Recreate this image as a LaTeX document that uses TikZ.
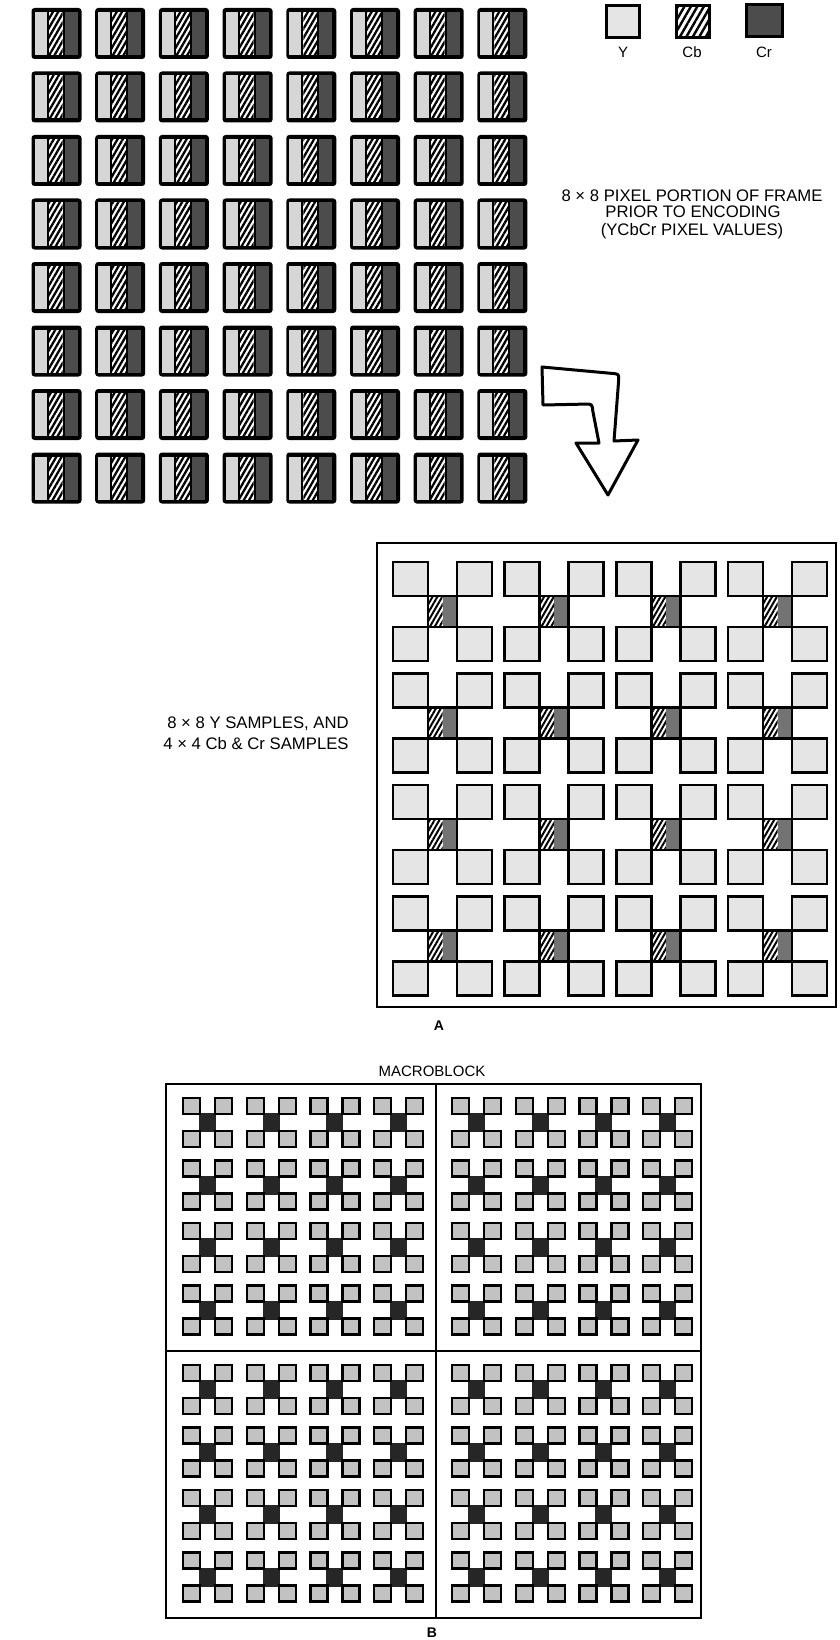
\documentclass[tikz,border=0pt]{standalone}
\usepackage{fontspec}
\setmainfont{Liberation Sans}
\usetikzlibrary{patterns,patterns.meta}
\definecolor{ytop}{gray}{0.84}
\definecolor{crtop}{gray}{0.30}
\definecolor{ya}{gray}{0.90}
\definecolor{cra}{gray}{0.45}
\definecolor{yb}{gray}{0.76}
\definecolor{crb}{gray}{0.15}
\begin{document}
\begin{tikzpicture}[x=1pt,y=-1pt,
  txt/.style={font=\fontsize{16.7}{18}\selectfont, inner sep=0pt, anchor=base},
  lgd/.style={font=\fontsize{15}{17}\selectfont, inner sep=0pt, anchor=base},
  tag/.style={font=\bfseries\fontsize{14}{16}\selectfont, inner sep=0pt, anchor=base},
  hatchtop/.style={pattern={Lines[angle=60,distance=4.6pt,line width=2.3pt]}, pattern color=black},
  hatchlgd/.style={pattern={Lines[angle=60,distance=5.6pt,line width=2.4pt]}, pattern color=black},
  hatcha/.style={pattern={Lines[angle=60,distance=4.2pt,line width=2pt]}, pattern color=black},
  ysq/.style={line width=2.6pt, fill=ya},
  ysqb/.style={line width=2.2pt, fill=yb},
  frame/.style={line width=2.6pt}]
\useasboundingbox (0,0) rectangle (839,1640);
\fill[white] (0,0) rectangle (839,1640);

% ---------- top 8x8 grid of YCbCr pixels ----------
\foreach \r in {0,...,7}{
  \foreach \c in {0,...,7}{
    \begin{scope}[shift={({31.5+63.7*\c},{8+63.5*\r})}]
      \fill[black, rounded corners=3pt] (0,0) rectangle (50,51);
      \fill[ytop] (3,4) rectangle (15,47);
      \fill[white] (17,4) rectangle (31,47);
      \pattern[hatchtop] (17,4) rectangle (31,47);
      \fill[crtop] (33,4) rectangle (46,47);
    \end{scope}
  }
}

% ---------- legend ----------
\draw[line width=3pt, fill=ya] (606,6) rectangle (639,38);
\fill[white] (676,6) rectangle (709,38);
\pattern[hatchlgd] (676,6) rectangle (709,38);
\draw[line width=3pt] (676,6) rectangle (709,38);
\draw[line width=3pt, fill=crtop] (746,5) rectangle (782,37);
\node[lgd] (lY) at (623,58) {Y};
\node[lgd] (lCb) at (692,58) {Cb};
\node[lgd] (lCr) at (764,58) {Cr};

% ---------- caption of top grid ----------
\node[txt] (t1a) at (692,201) {8 × 8 PIXEL PORTION OF FRAME};
\node[txt] (t1b) at (693,218) {PRIOR TO ENCODING};
\node[txt] (t1c) at (692,235) {(YCbCr PIXEL VALUES)};

% ---------- bent arrow ----------
\draw[line width=3pt, fill=white, line join=round]
  (542,367) -- (612,373.4) .. controls (619,374) .. (618.6,381)
  -- (614,441) -- (638,440) -- (608,495) -- (576,443) -- (599,443)
  -- (592.8,411) .. controls (592,404) .. (585,404.1) -- (543,405) -- cycle;

% ---------- panel A ----------
\draw[frame] (377,543) rectangle (836,1007);
\foreach \i in {0,...,3}{
  \foreach \j in {0,...,3}{
    \begin{scope}[shift={({393+111.7*\i},{562+111.5*\j})}]
      \fill[cra] (49.5,34) rectangle (64,65);
      \fill[white] (35,34) rectangle (49.5,65);
      \pattern[hatcha] (35,34) rectangle (49.5,65);
      \draw[line width=2.6pt] (35,34) rectangle (64,65);
      \draw[ysq] (0,0) rectangle (35,34);
      \draw[ysq] (64,0) rectangle (99,34);
      \draw[ysq] (0,65) rectangle (35,99);
      \draw[ysq] (64,65) rectangle (99,99);
    \end{scope}
  }
}
\node[txt] (t2a) at (258,728) {8 × 8 Y SAMPLES, AND};
\node[txt] (t2b) at (256,749) {4 × 4 Cb \& Cr SAMPLES};
\node[tag] (tA) at (439,1030) {A};

% ---------- panel B ----------
\node[lgd] (tMB) at (432,1076) {MACROBLOCK};
\draw[frame] (166,1084) rectangle (701,1618);
\draw[line width=1.6pt] (436,1084) -- (436,1618);
\draw[line width=1.6pt] (166,1351) -- (701,1351);
\foreach \c in {0,...,7}{
  \foreach \r in {0,...,7}{
    \pgfmathsetmacro\gx{\c<4 ? 183+63.7*\c : 452+63.7*(\c-4)}
    \pgfmathsetmacro\gy{\r<4 ? 1098+62.5*\r : 1365+62.5*(\r-4)}
    \begin{scope}[shift={(\gx,\gy)}]
      \fill[crb] (16,15) rectangle (33,34);
      \draw[ysqb] (0,0) rectangle (17,16);
      \draw[ysqb] (32,0) rectangle (49,16);
      \draw[ysqb] (0,33) rectangle (17,49);
      \draw[ysqb] (32,33) rectangle (49,49);
    \end{scope}
  }
}
\node[tag] (tB) at (432,1637) {B};
\end{tikzpicture}
\end{document}
